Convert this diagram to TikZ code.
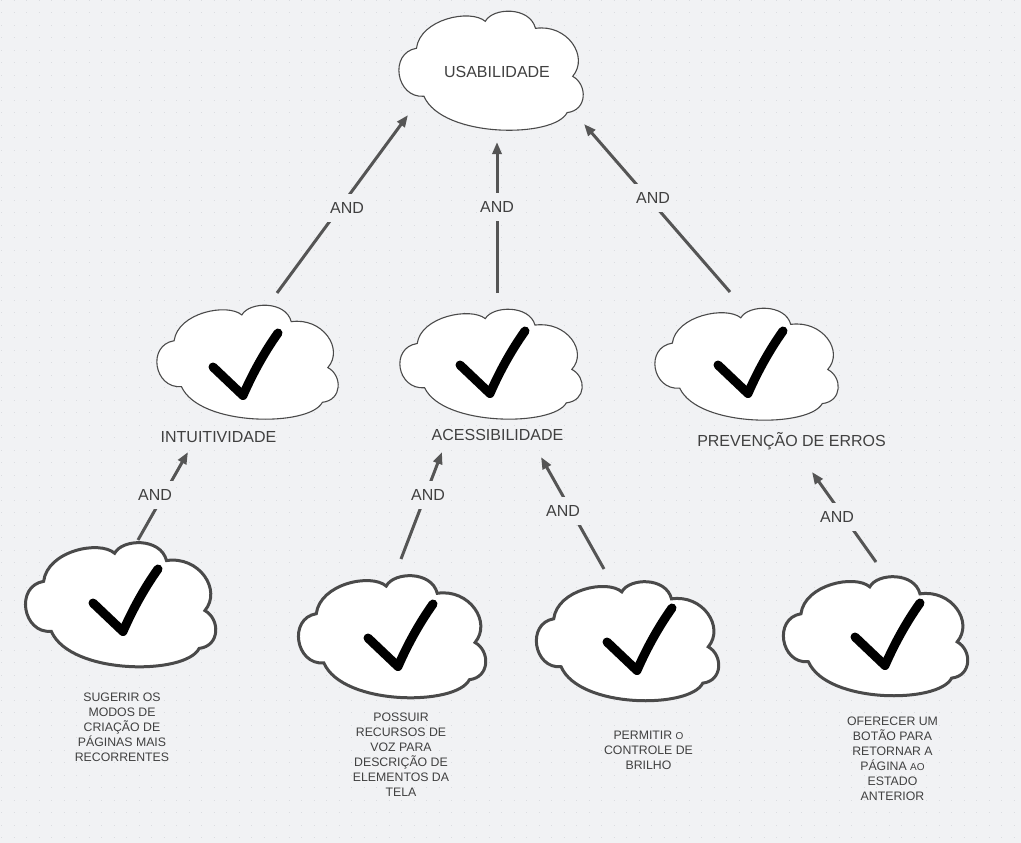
\documentclass[tikz,border=0pt]{standalone}
\usepackage{fontspec}
\setmainfont{Liberation Sans}
\usetikzlibrary{arrows.meta}
\definecolor{bg}{HTML}{F1F2F4}
\definecolor{gdot}{HTML}{DADCE0}
\definecolor{edge}{HTML}{555555}
\definecolor{txt}{HTML}{404040}
\definecolor{cl}{HTML}{4A4A4A}
\tikzset{
  cloudshape/.pic={
    \path[#1] (0.11,0.31)
      .. controls (0.13,0.06) and (0.40,-0.03) .. (0.48,0.08)
      .. controls (0.52,-0.04) and (0.72,-0.05) .. (0.75,0.14)
      .. controls (0.92,0.10) and (1.04,0.38) .. (0.95,0.55)
      .. controls (1.03,0.62) and (1.03,0.84) .. (0.92,0.86)
      .. controls (0.85,1.08) and (0.25,1.08) .. (0.15,0.72)
      .. controls (0.0,0.74) and (-0.04,0.35) .. (0.11,0.31) -- cycle;
    \coordinate (-c) at (0.5,0.5);
  },
  thincloud/.style={draw=cl, fill=white, line width=1.1pt},
  thickcloud/.style={draw=cl, fill=white, line width=3pt},
  chk/.style={draw=black, line width=9pt, line cap=round, line join=round},
  checkmark/.pic={
    \path[chk] (0,0) -- (30,28.5) .. controls (38,10) and (50,-13) .. (65,-34);
  },
  conn/.style={draw=edge, line width=3pt, -{Triangle[length=12pt,width=9pt]}},
  andlbl/.style={font=\fontsize{16}{19}\selectfont, text=txt, fill=bg, inner xsep=3pt, inner ysep=8.5pt},
  biglbl/.style={font=\fontsize{16}{19}\selectfont, text=txt, anchor=base, inner sep=0pt},
  desc/.style={font=\fontsize{12.3}{15}\selectfont, text=txt, align=center, anchor=north, inner sep=0pt},
}
\newcommand{\smallcap}[1]{{\fontsize{10}{15}\selectfont #1}}
\begin{document}
\begin{tikzpicture}[x=1pt, y=-1pt]
  \fill[bg] (0,0) rectangle (1021,843);
  \useasboundingbox (0,0) rectangle (1021,843);
  \foreach \j in {0,...,67} {
    \draw[gdot, line width=1pt, dash pattern=on 1pt off 11.5pt] (1,{\j*12.5+0.2}) -- (1021,{\j*12.5+0.2});
  }
  % clouds
  \pic (c0) [xscale=186, yscale=117] at (396,12) {cloudshape=thincloud};
  \pic (m1) [xscale=183, yscale=112] at (154,306) {cloudshape=thincloud};
  \pic (m2) [xscale=184, yscale=108] at (397,310) {cloudshape=thincloud};
  \pic (m3) [xscale=185, yscale=110] at (652,309) {cloudshape=thincloud};
  \pic (b1) [xscale=192, yscale=122] at (22.5,543.5) {cloudshape=thickcloud};
  \pic (b2) [xscale=189, yscale=120] at (295.5,576.5) {cloudshape=thickcloud};
  \pic (b3) [xscale=184, yscale=117] at (533.5,582.5) {cloudshape=thickcloud};
  \pic (b4) [xscale=186, yscale=117] at (780.5,577.5) {cloudshape=thickcloud};
  % check marks
  \pic at (213,367) {checkmark};
  \pic at (460,365) {checkmark};
  \pic at (718,365) {checkmark};
  \pic at (93,603) {checkmark};
  \pic at (368,638) {checkmark};
  \pic at (607,642) {checkmark};
  \pic at (855,637) {checkmark};
  % titles
  \node[biglbl] (usab) at (497,77.3) {USABILIDADE};
  \node[biglbl] (intu) at (218.5,442) {INTUITIVIDADE};
  \node[biglbl] (aces) at (497.5,440) {ACESSIBILIDADE};
  \node[biglbl] (prev) at (791.5,446.5) {PREVENÇÃO DE ERROS};
  % descriptions
  \node[desc] (d1) at (122,693) {SUGERIR OS\\MODOS DE\\CRIAÇÃO DE\\PÁGINAS MAIS\\RECORRENTES};
  \node[desc] (d2) at (401,713) {POSSUIR\\RECURSOS DE\\VOZ PARA\\DESCRIÇÃO DE\\ELEMENTOS DA\\TELA};
  \node[desc] (d3) at (648.5,731) {PERMITIR \smallcap{O}\\CONTROLE DE\\BRILHO};
  \node[desc] (d4) at (892.5,716.5) {OFERECER UM\\BOTÃO PARA\\RETORNAR A\\PÁGINA \smallcap{AO}\\ESTADO\\ANTERIOR};
  % connector end points
  \coordinate (a1s) at (277,293); \coordinate (a1t) at (408,115);
  \coordinate (a2s) at (497,293); \coordinate (a2t) at (497,142);
  \coordinate (a3s) at (730,292); \coordinate (a3t) at (584,124);
  \coordinate (a4s) at (138,540); \coordinate (a4t) at (188,452);
  \coordinate (a5s) at (401,559); \coordinate (a5t) at (442,452);
  \coordinate (a6s) at (604,569); \coordinate (a6t) at (541,457);
  \coordinate (a7s) at (876,562); \coordinate (a7t) at (812,472);
  \foreach \k in {1,...,7} { \draw[conn] (a\k s) -- (a\k t); }
  % AND labels
  \node[andlbl] (l1) at (347,208) {AND};
  \node[andlbl] (l2) at (497,207) {AND};
  \node[andlbl] (l3) at (653,198) {AND};
  \node[andlbl] (l4) at (155,495) {AND};
  \node[andlbl] (l5) at (428,495) {AND};
  \node[andlbl] (l6) at (563,511) {AND};
  \node[andlbl] (l7) at (837,517) {AND};
\end{tikzpicture}
\end{document}
